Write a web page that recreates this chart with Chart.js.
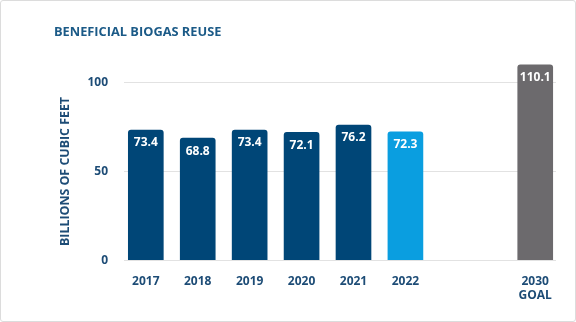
<!DOCTYPE html>
<html>
<head>
<meta charset="utf-8">
<script src="https://cdn.jsdelivr.net/npm/chart.js@4.4.1/dist/chart.umd.min.js"></script>
<style>
  html, body { margin: 0; padding: 0; background: #ffffff; }
  #wrap { position: relative; width: 574px; height: 320px; border: 1px solid #dcdcdc; border-radius: 3px; }
  canvas { display: block; }
</style>
</head>
<body>
<div id="wrap"><canvas id="c" width="574" height="320"></canvas></div>
<script>
// ---- data ----
const categories = ['2017', '2018', '2019', '2020', '2021', '2022', ['2030', 'GOAL']];
const values = [73.4, 68.8, 73.4, 72.1, 76.2, 72.3, 110.1];
const slots = [0, 1, 2, 3, 4, 5, 7.5];
const barColors = ['#004677', '#004677', '#004677', '#004677', '#004677', '#0a9ee0', '#6c6a6d'];
const yTicks = [0, 50, 100];
const chartTitle = 'BENEFICIAL BIOGAS REUSE';
const yTitle = 'BILLIONS OF CUBIC FEET';

const textColor = '#1d4c76';
const fontFamily = "'Open Sans', 'Noto Sans', sans-serif";

const valueLabels = {
  id: 'valueLabels',
  afterDatasetsDraw(chart) {
    const ctx = chart.ctx;
    const meta = chart.getDatasetMeta(0);
    ctx.save();
    ctx.font = `bold 12px ${fontFamily}`;
    ctx.fillStyle = '#ffffff';
    ctx.textAlign = 'center';
    ctx.textBaseline = 'middle';
    meta.data.forEach((bar, i) => {
      ctx.fillText(values[i].toFixed(1), bar.x, bar.y + 13);
    });
    ctx.restore();
  }
};

new Chart(document.getElementById('c'), {
  type: 'bar',
  data: {
    datasets: [{
      data: values.map((v, i) => ({ x: slots[i], y: v })),
      backgroundColor: barColors,
      borderRadius: { topLeft: 3, topRight: 3 },
      borderSkipped: 'bottom',
      barThickness: 35,
      clip: false
    }]
  },
  options: {
    responsive: false,
    animation: false,
    events: [],
    layout: { padding: { left: 53, right: 19, top: 0, bottom: 4 } },
    plugins: {
      legend: { display: false },
      tooltip: { enabled: false },
      title: {
        display: true,
        text: chartTitle,
        align: 'start',
        color: '#1b5a87',
        font: { family: fontFamily, size: 12.8, weight: 'bold' },
        padding: { top: 24, bottom: 42.4 }
      }
    },
    scales: {
      x: {
        type: 'linear',
        offset: false,
        min: -0.42,
        max: 7.9,
        afterBuildTicks(axis) { axis.ticks = slots.map(v => ({ value: v })); },
        grid: { display: false, drawTicks: false },
        border: { display: false },
        ticks: {
          autoSkip: false,
          maxRotation: 0,
          padding: 14,
          color: textColor,
          font: { family: fontFamily, size: 12, weight: 'bold' },
          callback(value) {
            const i = slots.indexOf(value);
            return i >= 0 ? categories[i] : '';
          }
        }
      },
      y: {
        min: 0,
        max: 100,
        afterBuildTicks(axis) { axis.ticks = yTicks.map(v => ({ value: v })); },
        afterFit(axis) { axis.width = 70; },
        grid: { color: '#e2e2e2', lineWidth: 1, drawTicks: false },
        border: { display: false },
        ticks: {
          padding: 16,
          color: textColor,
          font: { family: fontFamily, size: 12, weight: 'bold' }
        },
        title: {
          display: true,
          text: yTitle,
          color: textColor,
          font: { family: fontFamily, size: 12.4, weight: 'bold' },
          padding: { top: 4, bottom: 0 }
        }
      }
    }
  },
  plugins: [valueLabels]
});
</script>
</body>
</html>
